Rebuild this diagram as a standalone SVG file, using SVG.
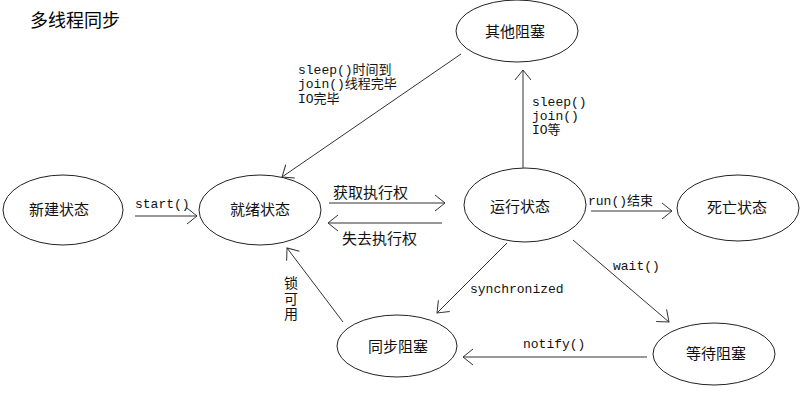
<svg xmlns="http://www.w3.org/2000/svg" width="804" height="400" viewBox="0 0 804 400">
<defs>
<style>
.node ellipse{fill:#fff;stroke:#222;stroke-width:1}
.node text{font-family:"Noto Sans CJK SC","Liberation Sans",sans-serif;font-size:15px;fill:#111;text-anchor:middle}
.edge line{stroke:#333;stroke-width:1;fill:none}
.lbl{font-family:"Liberation Mono","Noto Sans CJK SC",monospace;font-size:13px;fill:#111}
.cjk{font-family:"Noto Sans CJK SC","Liberation Sans",sans-serif;font-size:15px;fill:#111}
.vert{font-family:"Noto Sans CJK SC","Liberation Sans",sans-serif;font-size:14px;fill:#111;writing-mode:vertical-rl;letter-spacing:1.5px}
.title{font-family:"Noto Sans CJK SC","Liberation Sans",sans-serif;font-size:18px;fill:#000}
</style>
<marker id="arr" markerUnits="userSpaceOnUse" markerWidth="24" markerHeight="24" refX="0" refY="0" orient="auto" overflow="visible">
<path d="M-10,-8 L0,0 L-10,8" fill="none" stroke="#333" stroke-width="1"/>
</marker>
</defs>
<rect width="804" height="400" fill="#fff"/>
<text class="title" x="30" y="27">多线程同步</text>

<g id="connectors" class="edge">
<line x1="135" y1="216" x2="197" y2="216" marker-end="url(#arr)"/>
<line x1="329" y1="203" x2="445" y2="203" marker-end="url(#arr)"/>
<line x1="442" y1="223" x2="328" y2="223" marker-end="url(#arr)"/>
<line x1="591" y1="211" x2="672" y2="211" marker-end="url(#arr)"/>
<line x1="523" y1="168" x2="523" y2="70" marker-end="url(#arr)"/>
<line x1="461" y1="54" x2="282" y2="177" marker-end="url(#arr)"/>
<line x1="507" y1="243" x2="437" y2="313" marker-end="url(#arr)"/>
<line x1="573" y1="240" x2="669" y2="322" marker-end="url(#arr)"/>
<line x1="647" y1="357" x2="463" y2="357" marker-end="url(#arr)"/>
<line x1="343" y1="322" x2="287" y2="248" marker-end="url(#arr)"/>
<text class="lbl" x="135" y="208">start()</text>
<text class="cjk" x="333" y="198">获取执行权</text>
<text class="cjk" x="342" y="244">失去执行权</text>
<text class="lbl" x="588" y="205">run()结束</text>
<text class="lbl" x="532" y="106">sleep()</text>
<text class="lbl" x="532" y="120">join()</text>
<text class="lbl" x="532" y="134">IO等</text>
<text class="lbl" x="298" y="74">sleep()时间到</text>
<text class="lbl" x="298" y="88">join()线程完毕</text>
<text class="lbl" x="298" y="103">IO完毕</text>
<text class="lbl" x="470" y="293">synchronized</text>
<text class="lbl" x="613" y="270">wait()</text>
<text class="lbl" x="523" y="348">notify()</text>
<text class="vert" x="291" y="276">锁可用</text>
</g>

<g id="node-new" class="node"><ellipse cx="63" cy="210" rx="60" ry="35"/><text x="59" y="215">新建状态</text></g>
<g id="node-ready" class="node"><ellipse cx="260" cy="210" rx="61" ry="35"/><text x="260" y="215">就绪状态</text></g>
<g id="node-running" class="node"><ellipse cx="525" cy="205" rx="61" ry="37"/><text x="520" y="212">运行状态</text></g>
<g id="node-dead" class="node"><ellipse cx="738" cy="208" rx="61" ry="33"/><text x="737" y="213">死亡状态</text></g>
<g id="node-other" class="node"><ellipse cx="517" cy="31" rx="61" ry="31"/><text x="515" y="37">其他阻塞</text></g>
<g id="node-sync" class="node"><ellipse cx="397" cy="346" rx="60" ry="31"/><text x="398" y="352">同步阻塞</text></g>
<g id="node-wait" class="node"><ellipse cx="714" cy="354" rx="61" ry="31"/><text x="716" y="359">等待阻塞</text></g>
</svg>
